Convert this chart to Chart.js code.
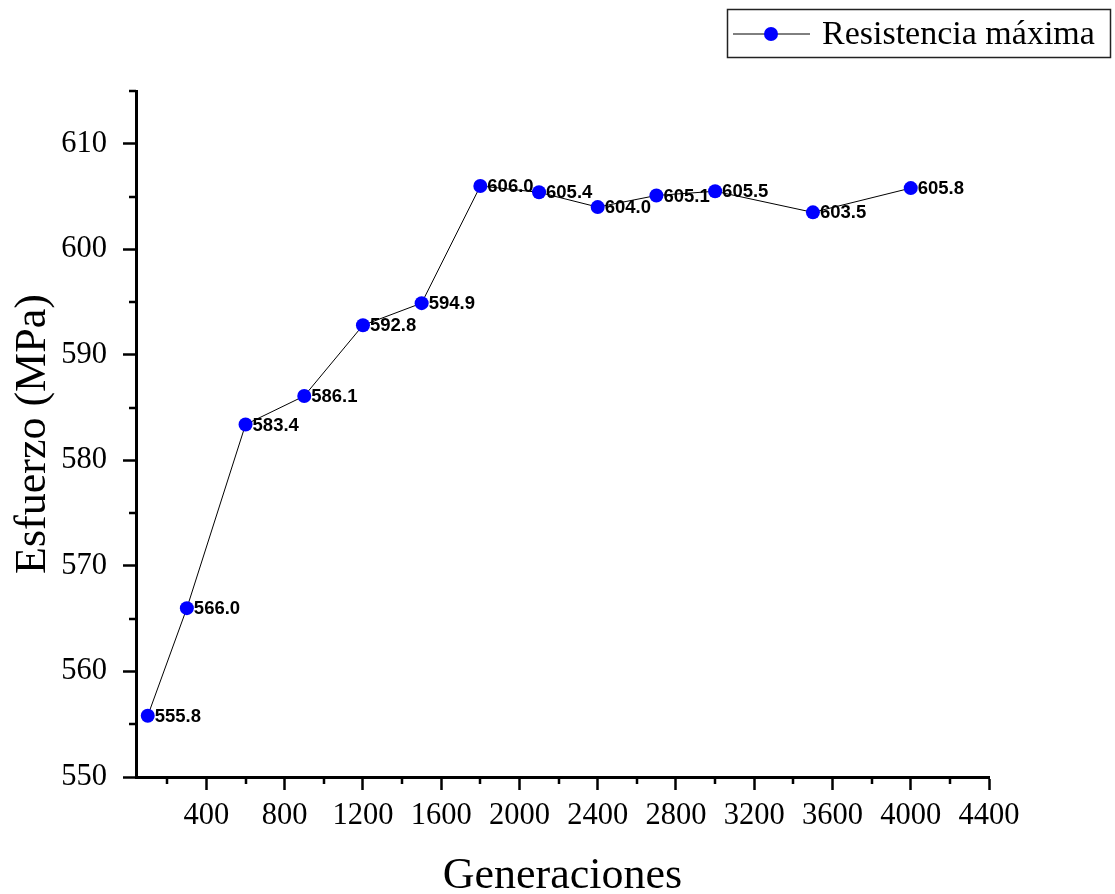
<!DOCTYPE html>
<html><head><meta charset="utf-8">
<script src="https://cdn.jsdelivr.net/npm/chart.js@4.4.0/dist/chart.umd.min.js"></script>
<style>html,body{margin:0;padding:0;background:#fff;} #wrap{position:relative;width:1115px;height:894px;}</style>
</head><body><div id="wrap"><canvas id="c" width="1115" height="894"></canvas></div>
<script>
const generaciones = [100, 300, 600, 900, 1200, 1500, 1800, 2100, 2400, 2700, 3000, 3500, 4000];
const resistencia = [555.8, 566.0, 583.4, 586.1, 592.8, 594.9, 606.0, 605.4, 604.0, 605.1, 605.5, 603.5, 605.8];
const xTicks = [400, 800, 1200, 1600, 2000, 2400, 2800, 3200, 3600, 4000, 4400];
const xMinor = [200, 600, 1000, 1400, 1800, 2200, 2600, 3000, 3400, 3800, 4200];
const yTicks = [550, 560, 570, 580, 590, 600, 610];
const yMinor = [555, 565, 575, 585, 595, 605, 615];
const seriesName = 'Resistencia máxima';
const xTitle = 'Generaciones';
const yTitle = 'Esfuerzo (MPa)';

const serif = "'Liberation Serif', 'Times New Roman', serif";
const sans = "'Liberation Sans', Arial, sans-serif";

const minorTicks = {
  id: 'minorTicks',
  afterDraw(chart) {
    const ctx = chart.ctx, xs = chart.scales.x, ys = chart.scales.y;
    ctx.save();
    ctx.strokeStyle = '#000';
    ctx.lineWidth = 2.5;
    ctx.beginPath();
    xMinor.forEach(v => {
      if (v < xs.min || v > xs.max) return;
      const px = Math.round(xs.getPixelForValue(v));
      ctx.moveTo(px, xs.top); ctx.lineTo(px, xs.top + 7);
    });
    yMinor.forEach(v => {
      if (v < ys.min || v > ys.max) return;
      const py = Math.round(ys.getPixelForValue(v));
      ctx.moveTo(ys.right - 7, py); ctx.lineTo(ys.right, py);
    });
    ctx.stroke();
    ctx.restore();
  }
};

const dataLabels = {
  id: 'dataLabels',
  beforeDatasetsDraw(chart) {
    const ctx = chart.ctx;
    const meta = chart.getDatasetMeta(0);
    ctx.save();
    ctx.font = 'bold 18.5px ' + sans;
    ctx.fillStyle = '#000';
    ctx.textAlign = 'left';
    ctx.textBaseline = 'middle';
    meta.data.forEach((pt, i) => {
      ctx.fillText(resistencia[i].toFixed(1), pt.x + 7, pt.y + 1);
    });
    ctx.restore();
  }
};

const legendBox = {
  id: 'legendBox',
  afterDraw(chart) {
    const ctx = chart.ctx;
    ctx.save();
    ctx.strokeStyle = '#222';
    ctx.lineWidth = 1.5;
    ctx.strokeRect(727.5, 9.5, 383, 48);
    ctx.strokeStyle = '#000';
    ctx.lineWidth = 1;
    ctx.beginPath();
    ctx.moveTo(733, 34); ctx.lineTo(810, 34);
    ctx.stroke();
    ctx.fillStyle = '#0000ff';
    ctx.beginPath();
    ctx.arc(771, 34, 7, 0, Math.PI * 2);
    ctx.fill();
    ctx.fillStyle = '#000';
    ctx.font = '34px ' + serif;
    ctx.textAlign = 'left';
    ctx.textBaseline = 'middle';
    ctx.fillText(seriesName, 822, 35);
    ctx.restore();
  }
};

new Chart(document.getElementById('c'), {
  type: 'line',
  data: {
    datasets: [{
      label: seriesName,
      data: generaciones.map((g, i) => ({ x: g, y: resistencia[i] })),
      borderColor: '#000',
      borderWidth: 1,
      pointBackgroundColor: '#0000ff',
      pointBorderColor: '#0000ff',
      pointRadius: 7,
      pointBorderWidth: 0,
      tension: 0,
      clip: false
    }]
  },
  options: {
    responsive: false,
    animation: false,
    devicePixelRatio: 1,
    layout: { padding: { top: 91, right: 126, left: 0, bottom: 0 } },
    plugins: { legend: { display: false }, tooltip: { enabled: false } },
    scales: {
      x: {
        type: 'linear',
        min: 40,
        max: 4400,
        afterBuildTicks(s) { s.ticks = xTicks.map(v => ({ value: v })); },
        afterFit(s) { s.height = 117; },
        grid: { drawOnChartArea: false, drawTicks: true, tickLength: 13, tickWidth: 2.5, color: '#000' },
        border: { display: true, width: 3, color: '#000' },
        ticks: { font: { family: serif, size: 30.5 }, color: '#000', padding: 8, maxRotation: 0, autoSkip: false, callback: v => String(v) },
        title: { display: true, text: xTitle, font: { family: serif, size: 44, lineHeight: 0.8 }, color: '#000', padding: { top: 0, bottom: 0 } }
      },
      y: {
        min: 550,
        max: 615,
        afterBuildTicks(s) { s.ticks = yTicks.map(v => ({ value: v })); },
        afterFit(s) { s.width = 136; },
        grid: { drawOnChartArea: false, drawTicks: true, tickLength: 13, tickWidth: 2.5, color: '#000' },
        border: { display: true, width: 3, color: '#000' },
        ticks: { font: { family: serif, size: 30.5 }, color: '#000', padding: 16, autoSkip: false, callback: v => String(v) },
        title: { display: true, text: yTitle, font: { family: serif, size: 44, lineHeight: 1.2 }, color: '#000', padding: { top: 7, bottom: 0 } }
      }
    }
  },
  plugins: [minorTicks, dataLabels, legendBox]
});
</script>
</body></html>
